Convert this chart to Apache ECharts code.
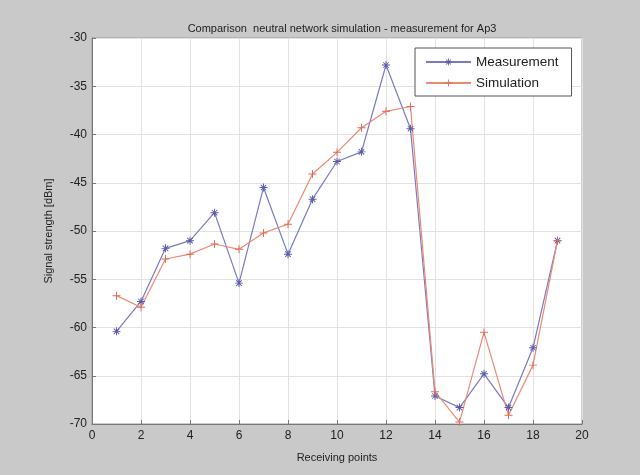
<!DOCTYPE html>
<html>
<head>
<meta charset="utf-8">
<script src="https://cdn.jsdelivr.net/npm/echarts@6/dist/echarts.min.js"></script>
<style>
html,body{margin:0;padding:0;background:#c9c9c9;}
#chart{width:640px;height:475px;}
</style>
</head>
<body>
<div id="chart"></div>
<script>
const points = [1,2,3,4,5,6,7,8,9,10,11,12,13,14,15,16,17,18,19];
const measurement = [-60.4,-57.3,-51.8,-51.0,-48.1,-55.4,-45.5,-52.4,-46.7,-42.8,-41.8,-32.8,-39.4,-67.1,-68.3,-64.8,-68.3,-62.1,-51.0];
const simulation = [-56.7,-57.9,-52.9,-52.4,-51.35,-51.9,-50.2,-49.3,-44.1,-41.85,-39.3,-37.6,-37.1,-66.65,-69.8,-60.5,-69.1,-63.9,-51.0];
const xTicks = [0,2,4,6,8,10,12,14,16,18,20];
const yTicks = [-70,-65,-60,-55,-50,-45,-40,-35,-30];

const plusPath = 'path://M4.4,0h1.2v10h-1.2z M0,4.4h10v1.2h-10z';
const starPath = 'path://M4.4,0h1.2v10h-1.2z M0,4.4h10v1.2h-10z M1.2,2.0l0.8,-0.8l6.8,6.8l-0.8,0.8z M8.0,1.2l0.8,0.8l-6.8,6.8l-0.8,-0.8z';

const chart = echarts.init(document.getElementById('chart'), null, {renderer:'canvas'});
const font = 'Liberation Sans, Arial, sans-serif';
chart.setOption({
  backgroundColor: '#c9c9c9',
  animation: false,
  textStyle: {fontFamily: font},
  title: {
    text: 'Comparison  neutral network simulation - measurement for Ap3',
    left: 337, top: 18, textAlign: 'center',
    textStyle: {fontSize: 11, fontWeight: 'normal', color: '#222', fontFamily: font}
  },
  legend: {
    orient: 'vertical',
    left: 415, top: 48,
    padding: [7, 13, 6, 10],
    itemGap: 7,
    itemWidth: 45, itemHeight: 9,
    backgroundColor: '#fff',
    borderColor: '#555', borderWidth: 1,
    textStyle: {fontSize: 13.5, color: '#222', fontFamily: font},
    data: ['Measurement', 'Simulation']
  },
  grid: {
    left: 92, top: 38, width: 490, height: 386,
    show: true, backgroundColor: '#fff', borderColor: '#9a9a9a', borderWidth: 1
  },
  xAxis: {
    type: 'value', min: 0, max: 20, interval: 2,
    name: 'Receiving points', nameLocation: 'middle', nameGap: 28,
    nameTextStyle: {fontSize: 11, color: '#222'},
    axisLine: {show: true, lineStyle: {color: '#777'}},
    axisTick: {show: true, inside: true, length: 4, lineStyle: {color: '#777'}},
    axisLabel: {fontSize: 12, color: '#222', margin: 6},
    splitLine: {show: true, lineStyle: {color: '#e2e2e2', width: 1}}
  },
  yAxis: {
    type: 'value', min: -70, max: -30, interval: 5,
    name: 'Signal strength [dBm]', nameLocation: 'middle', nameGap: 38,
    nameTextStyle: {fontSize: 11, color: '#222'},
    axisLine: {show: true, lineStyle: {color: '#777'}},
    axisTick: {show: true, inside: true, length: 4, lineStyle: {color: '#777'}},
    axisLabel: {fontSize: 12, color: '#222', margin: 5},
    splitLine: {show: true, lineStyle: {color: '#e2e2e2', width: 1}}
  },
  series: [
    {
      name: 'Measurement', type: 'line',
      data: points.map((p, i) => [p, measurement[i]]),
      symbol: starPath, symbolSize: 8,
      lineStyle: {color: '#7a7ac4', width: 1.2},
      itemStyle: {color: '#5a5aaa'}
    },
    {
      name: 'Simulation', type: 'line',
      data: points.map((p, i) => [p, simulation[i]]),
      symbol: plusPath, symbolSize: 8,
      lineStyle: {color: '#ec8a72', width: 1.2},
      itemStyle: {color: '#e06a5a'}
    }
  ]
});
</script>
</body>
</html>
